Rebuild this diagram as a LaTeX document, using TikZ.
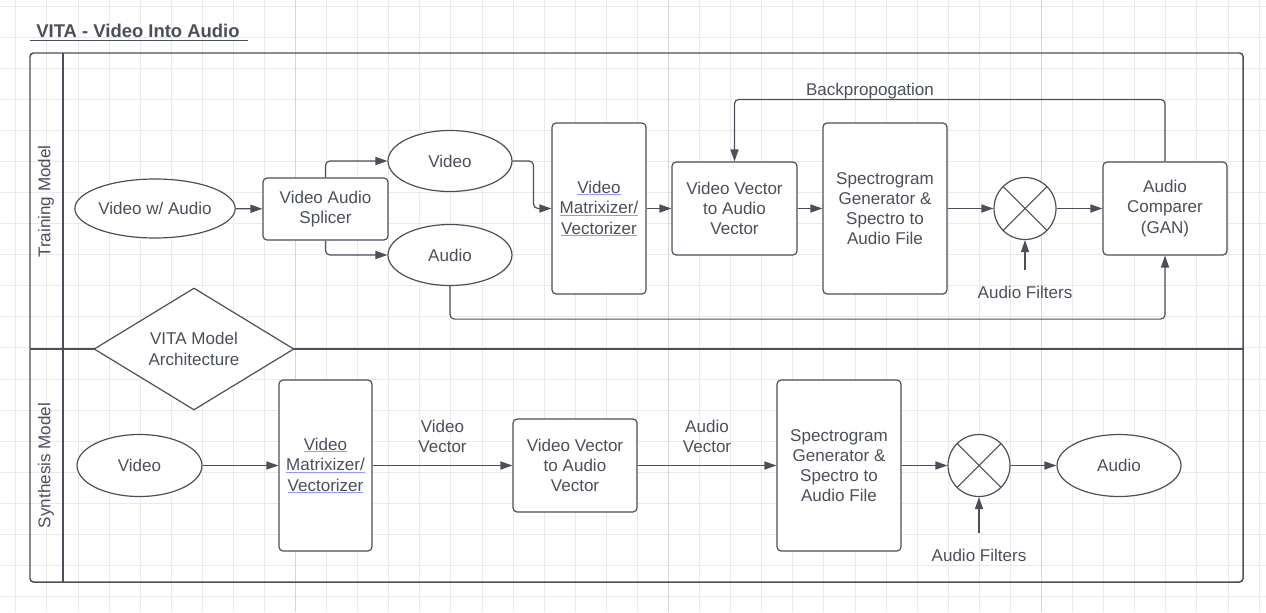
\documentclass[tikz,border=0pt]{standalone}
\usepackage{fontspec}
\setmainfont{Liberation Sans}
\usetikzlibrary{arrows.meta,shapes.geometric}
\definecolor{ink}{RGB}{74,79,89}
\definecolor{gridgray}{RGB}{234,234,234}
\definecolor{gridmajor}{RGB}{214,214,214}
\definecolor{linkblue}{RGB}{150,150,255}
\newlength\lnkwd
\newcommand\lnk[1]{\settowidth\lnkwd{#1}\rlap{\color{linkblue}\rule[-1pt]{\lnkwd}{0.55pt}}#1}

\begin{document}
\begin{tikzpicture}[x=0.02cm, y=-0.02cm,
  every node/.style={font=\fontsize{9.7}{11.5}\selectfont, text=ink},
  box/.style={draw=ink, line width=0.68pt, fill=white, rounded corners=2.3pt, align=center, inner sep=0pt},
  oval/.style={ellipse, draw=ink, line width=0.68pt, fill=white, inner sep=0pt, minimum width=2.48cm, minimum height=1.22cm},
  mixer/.style={circle, draw=ink, line width=0.68pt, fill=white, minimum size=1.24cm, inner sep=0pt,
    path picture={\draw[ink, line width=0.6pt] (path picture bounding box.north east) -- (path picture bounding box.south west)
      (path picture bounding box.north west) -- (path picture bounding box.south east);}},
  flow/.style={draw=ink, line width=0.68pt, -{Triangle[length=6.8pt,width=4.6pt]}, rounded corners=2.5pt},
  lbl/.style={align=center, inner sep=1pt},
  gridline/.style={gridgray, line width=0.5pt},
  frame/.style={ink, line width=0.85pt}]
\useasboundingbox (0,0) rectangle (1266,612);
% background grid
\foreach \i in {0,...,40}
    \draw[gridline] ({15.8+31.08*\i},0) -- ({15.8+31.08*\i},612);
\foreach \j in {0,...,19}
    \draw[gridline] (0,{6+31.08*\j}) -- (1266,{6+31.08*\j});
\foreach \i in {9,21,33}
    \draw[gridmajor, line width=0.5pt] ({15.8+31.08*\i},0) -- ({15.8+31.08*\i},612);

% title and lanes
\node[font=\fontsize{10.5}{12.6}\selectfont\bfseries, anchor=base west, inner sep=0pt] (title) at (36,37) {VITA - Video Into Audio};
\draw[ink, line width=0.7pt] (30,40.5) -- (248,40.5);
\draw[frame, rounded corners=2pt] (30,53) rectangle (1243,582);
\draw[frame] (63,53) -- (63,582);
\draw[frame] (30,349) -- (1243,349);
\node[rotate=90] (tlane) at (46,201.5) {Training Model};
\node[rotate=90] (slane) at (46,465.5) {Synthesis Model};
\node[diamond, draw=ink, line width=0.68pt, fill=white, aspect=1.64, minimum width=4cm, minimum height=2.44cm,
  inner sep=0pt, align=center] (arch) at (194,349) {VITA Model\\Architecture};

% training model
\node[oval, minimum width=3.12cm, minimum height=1.18cm] (tin) at (155,208.5) {Video w/ Audio};
\node[box, minimum width=2.5cm, minimum height=1.24cm] (split) at (325.5,209) {Video Audio\\Splicer};
\node[oval] (tvid) at (450,161) {Video};
\node[oval] (taud) at (450,255) {Audio};
\node[box, minimum width=1.88cm, minimum height=3.42cm] (tmat) at (599,208.5) {\lnk{Video}\\\lnk{Matrixizer/}\\\lnk{Vectorizer}};
\node[box, minimum width=2.5cm, minimum height=1.86cm] (tvec) at (734.5,208.5) {Video Vector\\to Audio\\Vector};
\node[box, minimum width=2.48cm, minimum height=3.42cm] (tspec) at (885,208.5) {Spectrogram\\Generator \&\\Spectro to\\Audio File};
\node[mixer] (tmix) at (1025,208.5) {};
\node[box, minimum width=2.48cm, minimum height=1.86cm] (tcmp) at (1165,208.5) {Audio\\Comparer\\(GAN)};
\node[lbl] (tfilt) at (1025,292) {Audio Filters};
\coordinate (tfin) at (1025,270);
\node[lbl] (bplab) at (870,91) {Backpropogation};

\draw[flow] (tin) -- (split);
\draw[flow] (split.north) |- (tvid);
\draw[flow] (split.south) |- (taud);
\draw[flow] (tvid.east) -- ++(21,0) |- (tmat);
\draw[flow] (tmat) -- (tvec);
\draw[flow] (tvec) -- (tspec);
\draw[flow] (tspec) -- (tmix);
\draw[flow] (tmix) -- (tcmp);
\draw[flow] (tfin) -- (tmix);
\draw[flow] (tcmp.north) -- ++(0,-62) -| (tvec.north);
\draw[flow] (taud.south) -- ++(0,33) -| (tcmp.south);

% synthesis model
\node[oval, minimum width=2.5cm, minimum height=1.24cm] (svid) at (139.5,465.5) {Video};
\node[box, minimum width=1.86cm, minimum height=3.42cm] (smat) at (325.5,465.5) {\lnk{Video}\\\lnk{Matrixizer/}\\\lnk{Vectorizer}};
\node[box, minimum width=2.48cm, minimum height=1.86cm] (svec) at (575,465.5) {Video Vector\\to Audio\\Vector};
\node[box, minimum width=2.48cm, minimum height=3.42cm] (sspec) at (839,465.5) {Spectrogram\\Generator \&\\Spectro to\\Audio File};
\node[mixer] (smix) at (979,465.5) {};
\node[oval, minimum height=1.24cm] (saud) at (1119,465.5) {Audio};
\node[lbl] (sfilt) at (979,555) {Audio Filters};
\coordinate (sfin) at (979,533);

\draw[flow] (svid) -- (smat);
\draw[flow] (smat) -- node[lbl, above=6pt] (vvlab) {Video\\Vector} (svec);
\draw[flow] (svec) -- node[lbl, above=6pt] (avlab) {Audio\\Vector} (sspec);
\draw[flow] (sspec) -- (smix);
\draw[flow] (smix) -- (saud);
\draw[flow] (sfin) -- (smix);
\end{tikzpicture}
\end{document}
